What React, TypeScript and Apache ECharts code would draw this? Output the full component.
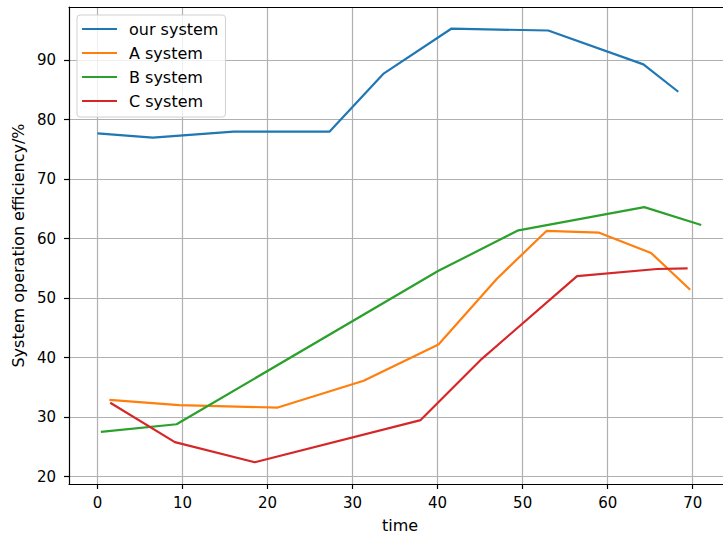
import React, { useEffect, useRef } from "react";
import * as echarts from "echarts";

const seriesNames = ["our system", "A system", "B system", "C system"];
const seriesColors = ["#1f77b4", "#ff7f0e", "#2ca02c", "#d62728"];

const ourSystemX = [0, 6.5, 16.0, 27.3, 33.6, 41.6, 53.0, 64.2, 68.3];
const ourSystemY = [77.7, 77.0, 78.0, 78.0, 87.7, 95.3, 95.0, 89.3, 84.7];

const aSystemX = [1.4, 9.6, 21.2, 31.3, 40.1, 47.0, 52.8, 59.0, 65.1, 69.7];
const aSystemY = [32.9, 32.0, 31.6, 36.1, 42.2, 53.3, 61.3, 61.0, 57.6, 51.4];

const bSystemX = [0.4, 9.3, 40.1, 49.5, 64.3, 71.0];
const bSystemY = [27.5, 28.8, 54.6, 61.4, 65.3, 62.3];

const cSystemX = [1.5, 9.1, 18.5, 38.0, 45.2, 56.4, 65.8, 69.4];
const cSystemY = [32.4, 25.8, 22.4, 29.5, 39.8, 53.7, 54.9, 55.0];

const xTicks = [0, 10, 20, 30, 40, 50, 60, 70];
const yTicks = [20, 30, 40, 50, 60, 70, 80, 90];

const FONT = "'DejaVu Sans', sans-serif";

function pairs(xs: number[], ys: number[]) {
  return xs.map((x, i) => [x, ys[i]]);
}

export default function App() {
  const ref = useRef<HTMLDivElement>(null);
  useEffect(() => {
    if (!ref.current) return;
    const chart = echarts.init(ref.current, null, { renderer: "svg" });
    const all = [
      pairs(ourSystemX, ourSystemY),
      pairs(aSystemX, aSystemY),
      pairs(bSystemX, bSystemY),
      pairs(cSystemX, cSystemY),
    ];
    chart.setOption({
      animation: false,
      backgroundColor: "#ffffff",
      textStyle: { fontFamily: FONT },
      grid: {
        left: 69,
        right: -8,
        top: 7,
        bottom: 49,
        containLabel: false,
        outerBoundsMode: "none",
      },
      legend: {
        orient: "vertical",
        left: 77,
        top: 15,
        itemWidth: 35,
        itemHeight: 14,
        itemGap: 8,
        padding: [6, 7, 8, 4],
        backgroundColor: "rgba(255,255,255,0.8)",
        borderColor: "#d0d0d0",
        borderWidth: 1,
        borderRadius: 3,
        textStyle: {
          fontFamily: FONT,
          fontSize: 16,
          color: "#000",
          padding: [0, 0, 0, 7],
        },
        data: seriesNames,
      },
      xAxis: [
        {
          type: "value",
          min: -3.35,
          max: 74.5,
          name: "time",
          nameLocation: "middle",
          nameGap: 33,
          nameTextStyle: { fontFamily: FONT, fontSize: 16, color: "#000" },
          axisLine: { show: true, onZero: false, lineStyle: { color: "#000", width: 1.2 } },
          axisTick: { show: true, length: 5, customValues: xTicks, lineStyle: { color: "#000", width: 1.2 } },
          axisLabel: {
            fontFamily: FONT,
            fontSize: 15,
            color: "#000",
            margin: 11,
            customValues: xTicks,
          },
          splitLine: { show: true, lineStyle: { color: "#b0b0b0", width: 1.2 } },
        },
        {
          type: "value",
          position: "top",
          min: -3.35,
          max: 74.5,
          axisLine: { show: true, onZero: false, lineStyle: { color: "#000", width: 1.2 } },
          axisTick: { show: false },
          axisLabel: { show: false },
          splitLine: { show: false },
        },
      ],
      yAxis: {
        type: "value",
        min: 18.75,
        max: 98.95,
        name: "System operation efficiency/%",
        nameLocation: "middle",
        nameGap: 41,
        nameTextStyle: { fontFamily: FONT, fontSize: 16, color: "#000" },
        axisLine: { show: true, onZero: false, lineStyle: { color: "#000", width: 1.2 } },
        axisTick: { show: true, length: 5, customValues: yTicks, lineStyle: { color: "#000", width: 1.2 } },
        axisLabel: {
          fontFamily: FONT,
          fontSize: 15,
          color: "#000",
          margin: 13,
          customValues: yTicks,
        },
        splitLine: { show: true, lineStyle: { color: "#b0b0b0", width: 1.2 } },
      },
      series: seriesNames.map((name, i) => ({
        name,
        type: "line",
        xAxisIndex: 0,
        data: all[i],
        symbol: "none",
        showSymbol: false,
        color: seriesColors[i],
        itemStyle: { opacity: 0 },
        lineStyle: { color: seriesColors[i], width: 2.2 },
      })),
    });
    return () => chart.dispose();
  }, []);
  return (
    <div
      ref={ref}
      style={{ position: "absolute", left: 0, top: 0, width: 723, height: 533 }}
    />
  );
}
